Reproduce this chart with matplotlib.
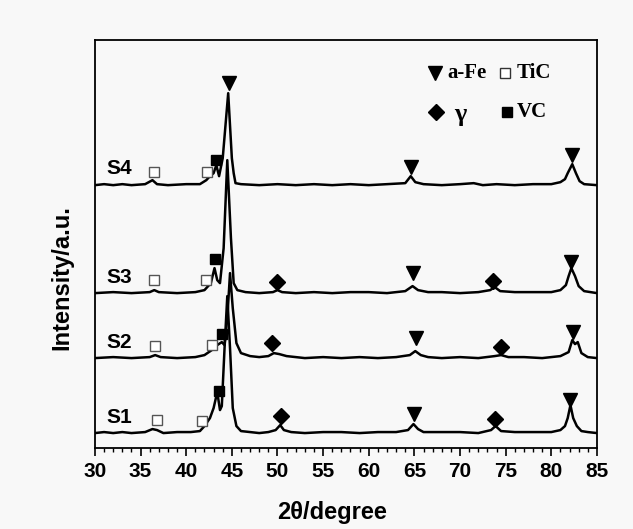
import matplotlib
matplotlib.use('Agg')
import matplotlib.pyplot as plt
from matplotlib.ticker import MultipleLocator

# 2theta / intensity points (intensity in arbitrary units, traces offset)
s1_x = [30, 31, 32, 33, 34, 35.5, 36.3, 36.8, 37.5, 39, 40.5, 41.5, 42.0, 42.6, 43.0, 43.4, 43.7, 43.9,
        44.2, 44.5, 44.8, 45.1, 45.5, 46, 47, 48, 49, 49.8, 50.3, 50.7, 51.5, 53, 55, 57, 59, 61, 63,
        64.3, 64.9, 65.4, 66, 68, 70, 72, 73.4, 73.9, 74.5, 76, 78, 80, 81.0, 81.5, 81.8, 82.1, 82.4, 82.8, 83.3, 84, 85]
s1_y = [15, 16, 15, 16, 15, 16, 19, 18, 15, 16, 16, 17, 22, 30, 40, 56, 38, 42,
        100, 152, 100, 40, 22, 17, 16, 15, 16, 18, 23, 18, 16, 15, 16, 16, 15, 16, 16,
        18, 24, 19, 16, 16, 16, 15, 18, 22, 17, 16, 16, 16, 18, 22, 30, 43, 30, 22, 17, 16, 15]

s2_x = [30, 32, 34, 36, 36.6, 37.2, 39, 41, 42, 42.8, 43.4, 43.9, 44.2, 44.5, 44.8, 45.1, 45.5, 46, 47,
        48, 49, 49.6, 50.2, 51, 53, 55, 57, 59, 61, 63, 64.5, 65.1, 65.7, 66.5, 68, 70, 72, 73.8, 74.5,
        75.3, 77, 79, 81, 81.9, 82.3, 82.6, 82.9, 83.3, 84, 85]
s2_y = [90, 91, 90, 91, 93, 91, 90, 91, 93, 98, 103, 106, 103, 130, 175, 140, 105, 95, 92,
        91, 92, 95, 94, 92, 90, 91, 90, 91, 90, 91, 93, 97, 93, 91, 90, 91, 90, 92, 93,
        91, 91, 90, 92, 96, 108, 104, 106, 95, 91, 90]

s3_x = [30, 32, 34, 36, 36.5, 37, 39, 41, 42, 42.7, 43.1, 43.4, 43.7, 44.1, 44.5, 44.9, 45.2, 45.6,
        46.5, 48, 49.5, 50.0, 50.5, 52, 54, 56, 58, 60, 62, 64, 64.8, 65.4, 66.5, 68, 70, 72, 73.3,
        73.8, 74.4, 76, 78, 80, 81.0, 81.6, 81.9, 82.2, 82.6, 83.0, 83.6, 85]
s3_y = [155, 156, 155, 156, 158, 156, 155, 156, 158, 165, 180, 168, 165, 200, 288, 210, 165, 158,
        156, 155, 156, 158, 156, 155, 156, 155, 156, 156, 155, 157, 162, 158, 156, 156, 155, 156, 158,
        161, 157, 156, 156, 156, 158, 163, 172, 180, 172, 162, 157, 155]

s4_x = [30, 31, 32, 33, 34, 35.5, 36.3, 36.8, 38, 40, 41.5, 42.2, 42.6, 43.0, 43.3, 43.6, 44.0, 44.6,
        45.0, 45.2, 45.4, 46, 48, 50, 52, 54, 56, 58, 60, 62, 64, 64.6, 65.1, 66, 68, 70, 71.5, 72.5,
        74, 76, 78, 80, 81.0, 81.5, 81.8, 82.3, 82.7, 83.1, 83.6, 85]
s4_y = [263, 264, 263, 264, 263, 264, 268, 264, 263, 264, 264, 268, 272, 275, 283, 272, 290, 355,
        290, 275, 265, 264, 263, 264, 263, 264, 263, 264, 263, 264, 265, 272, 266, 264, 263, 264, 265, 263,
        264, 263, 264, 264, 266, 269, 275, 284, 275, 267, 264, 263]

sample_names = ['S1', 'S2', 'S3', 'S4']
name_y = [31, 106, 171, 280]

# phase markers
fe_x = [44.65, 64.6, 82.3, 64.8, 82.2, 65.2, 82.4, 65.0, 82.1]
fe_y = [365, 281, 293, 175, 186, 110, 116, 34, 48]
tic_x = [36.5, 42.3, 36.5, 42.2, 36.6, 42.8, 36.8, 41.7]
tic_y = [276, 276, 168, 168, 102, 103, 28, 27]
vc_x = [43.3, 43.2, 43.9, 43.6]
vc_y = [288, 189, 114, 57]
gam_x = [50.0, 73.6, 49.4, 74.5, 50.4, 73.8]
gam_y = [166, 167, 105, 101, 32, 29]

fig = plt.figure(figsize=(6.33, 5.29), dpi=100, facecolor='#f8f8f8')
ax = fig.add_axes([0.150, 0.153, 0.793, 0.771], facecolor='#f8f8f8')

for xs, ys in [(s1_x, s1_y), (s2_x, s2_y), (s3_x, s3_y), (s4_x, s4_y)]:
    ax.plot(xs, ys, color='black', lw=1.8, solid_joinstyle='round')

ax.plot(fe_x, fe_y, 'v', color='black', ms=10, ls='none')
ax.plot(tic_x, tic_y, 's', mfc='white', mec='#555555', mew=1.0, ms=6.5, ls='none')
ax.plot(vc_x, vc_y, 's', color='black', ms=7.5, ls='none')
ax.plot(gam_x, gam_y, 'D', color='black', ms=8, ls='none')

for name, y in zip(sample_names, name_y):
    ax.text(31.3, y, name, fontsize=15, fontweight='bold', family='Liberation Sans', va='center', ha='left')

# legend drawn by hand
serif = dict(fontsize=15, fontweight='bold', family='Liberation Serif', va='center', ha='left')
ax.plot([67.3], [375], 'v', color='black', ms=10)
ax.text(68.6, 375, 'a-Fe', **serif)
ax.plot([74.9], [375], 's', mfc='white', mec='#333333', mew=1.0, ms=7)
ax.text(76.2, 375, 'TiC', **serif)
ax.plot([67.4], [336], 'D', color='black', ms=8.5)
ax.text(69.4, 334, 'γ', fontsize=19, fontweight='bold', family='Liberation Serif', va='center', ha='left')
ax.plot([75.1], [336], 's', color='black', ms=7)
ax.text(76.2, 336, 'VC', **serif)

ax.set_xlim(30, 85)
ax.set_ylim(0, 408)
ax.xaxis.set_major_locator(MultipleLocator(5))
ax.xaxis.set_minor_locator(MultipleLocator(1))
ax.set_yticks([])
ax.tick_params(axis='x', which='major', direction='out', length=6, width=1.2, pad=4, labelsize=15)
ax.tick_params(axis='x', which='minor', direction='out', length=3, width=1.0)
for lbl in ax.get_xticklabels():
    lbl.set_fontweight('bold')
    lbl.set_family('Liberation Sans')
for sp in ax.spines.values():
    sp.set_linewidth(1.3)

ax.set_xlabel('2θ/degree', fontsize=17, fontweight='bold', family='Liberation Sans')
ax.set_ylabel('Intensity/a.u.', fontsize=17, fontweight='bold', family='Liberation Sans')
ax.xaxis.set_label_coords(0.473, -0.157)
ax.yaxis.set_label_coords(-0.066, 0.417)
ax.xaxis.label.set_va('center')
ax.yaxis.label.set_va('center')

fig.savefig('out.png', dpi=100, facecolor=fig.get_facecolor())
